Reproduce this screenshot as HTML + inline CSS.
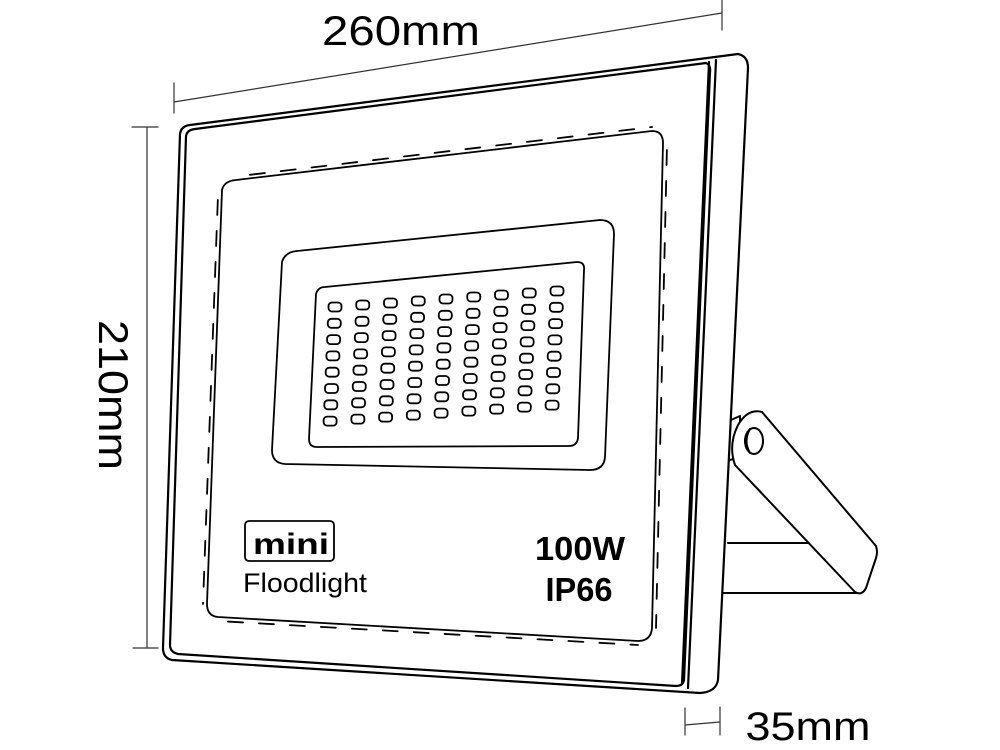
<!DOCTYPE html>
<html><head><meta charset="utf-8"><style>
html,body{margin:0;padding:0;background:#fff;width:1000px;height:750px;overflow:hidden}
svg{display:block}
text{font-family:"Liberation Sans",sans-serif;fill:#000}
</style></head><body>
<svg width="1000" height="750" viewBox="0 0 1000 750" xmlns="http://www.w3.org/2000/svg">
<g fill="none" stroke="#000" stroke-linejoin="round" stroke-linecap="round">
<g stroke-width="1.2" stroke="#333">
<line x1="174" y1="83" x2="174" y2="113"/>
<line x1="174" y1="102" x2="722" y2="13"/>
<line x1="722" y1="0" x2="722" y2="30"/>
<line x1="132" y1="127" x2="158" y2="127"/>
<line x1="147" y1="127" x2="147" y2="648"/>
<line x1="133" y1="648" x2="158" y2="648"/>
<line x1="685" y1="708" x2="685" y2="735"/>
<line x1="685" y1="725" x2="720" y2="722"/>
<line x1="720" y1="707" x2="720" y2="735"/>
</g>
<g stroke-width="2">
<path d="M728,543 L808,543"/>
<path d="M722,593 L860,593"/>
<path d="M731,420 L740,416 L740,458 L729,460"/>
<path d="M735,465 Q728,445 738,425 Q748,408 762,412 L876,546 Q878,552 876,558 L866,588 Q862,596 855,592 Z" fill="#fff"/>
<ellipse cx="754" cy="441" rx="9" ry="13"/>
<path d="M750,429 Q743,441 750,453"/>
</g>
<g stroke-width="2.2">
<path d="M180,134 Q181,126 190,125 L738,54 Q748,56 748,68 L718,680 Q716,692 700,693 L172,660 Q163,658 163,648 Z" fill="#fff"/>
<path d="M716,60 L688,688"/>
<path d="M709,62 L682,684"/>
<path d="M186,136 Q187,130 195,129 L706,63 Q711,65 710,72 L684,680 Q683,686 676,686 L178,654 Q170,652 170,645 Z"/>
<path d="M222,190 Q224,181 236,180 L652,131 Q663,131 663,143 L652,628 Q651,641 638,641 L218,617 Q207,616 207,604 Z" stroke-width="1.8"/>
<line x1="240" y1="176" x2="652" y2="127" stroke-width="1.8" stroke-dasharray="15 16" stroke-dashoffset="-10"/>
<line x1="218" y1="621" x2="638" y2="645" stroke-width="1.8" stroke-dasharray="15 16" stroke-dashoffset="-10"/>
<line x1="218" y1="195" x2="203" y2="604" stroke-width="1.8" stroke-dasharray="15 16" stroke-dashoffset="-5"/>
<line x1="667" y1="145" x2="656" y2="628" stroke-width="1.8" stroke-dasharray="15 16" stroke-dashoffset="-5"/>
<path d="M282,262 Q285,252 297,251 L600,220 Q614,220 614,234 L605,457 Q604,470 590,470 L285,464 Q272,463 272,450 Z" stroke-width="1.8"/>
<path d="M316,294 Q318,287 325,287 L577,262 Q585,262 584,270 L578,438 Q577,446 569,446 L317,447 Q309,447 309,439 Z" stroke-width="1.8"/>
<rect x="245" y="521" width="89" height="40" rx="4" stroke-width="1.8"/>
</g>
<g stroke-width="1.8">
<g id="r0">
<rect x="328.5" y="302.5" width="13" height="9" rx="3.5"/>
<rect x="356.25" y="300.5" width="13" height="9" rx="3.5"/>
<rect x="384" y="298.5" width="13" height="9" rx="3.5"/>
<rect x="411.75" y="296.5" width="13" height="9" rx="3.5"/>
<rect x="439.5" y="294.5" width="13" height="9" rx="3.5"/>
<rect x="467.25" y="292.5" width="13" height="9" rx="3.5"/>
<rect x="495" y="290.5" width="13" height="9" rx="3.5"/>
<rect x="522.75" y="288.5" width="13" height="9" rx="3.5"/>
<rect x="550.5" y="286.5" width="13" height="9" rx="3.5"/>
</g>
<use href="#r0" transform="translate(-0.7,16.3)"/>
<use href="#r0" transform="translate(-1.4,32.6)"/>
<use href="#r0" transform="translate(-2.1,48.9)"/>
<use href="#r0" transform="translate(-2.8,65.2)"/>
<use href="#r0" transform="translate(-3.5,81.5)"/>
<use href="#r0" transform="translate(-4.2,97.8)"/>
<use href="#r0" transform="translate(-4.9,114.1)"/>
</g>
</g>
<text x="401" y="45" font-size="42" text-anchor="middle" textLength="158" lengthAdjust="spacingAndGlyphs">260mm</text>
<text transform="translate(99,395) rotate(90)" font-size="42" text-anchor="middle" textLength="150" lengthAdjust="spacingAndGlyphs">210mm</text>
<text x="808" y="740" font-size="40" text-anchor="middle" textLength="125" lengthAdjust="spacingAndGlyphs">35mm</text>
<text x="291" y="554" font-size="30" font-weight="bold" text-anchor="middle" textLength="76" lengthAdjust="spacingAndGlyphs">mini</text>
<text x="243" y="592" font-size="27" textLength="124" lengthAdjust="spacingAndGlyphs">Floodlight</text>
<text x="580" y="560" font-size="33" font-weight="bold" text-anchor="middle" textLength="90" lengthAdjust="spacingAndGlyphs">100W</text>
<text x="579" y="601" font-size="33" font-weight="bold" text-anchor="middle" textLength="67" lengthAdjust="spacingAndGlyphs">IP66</text>
</svg>
</body></html>
